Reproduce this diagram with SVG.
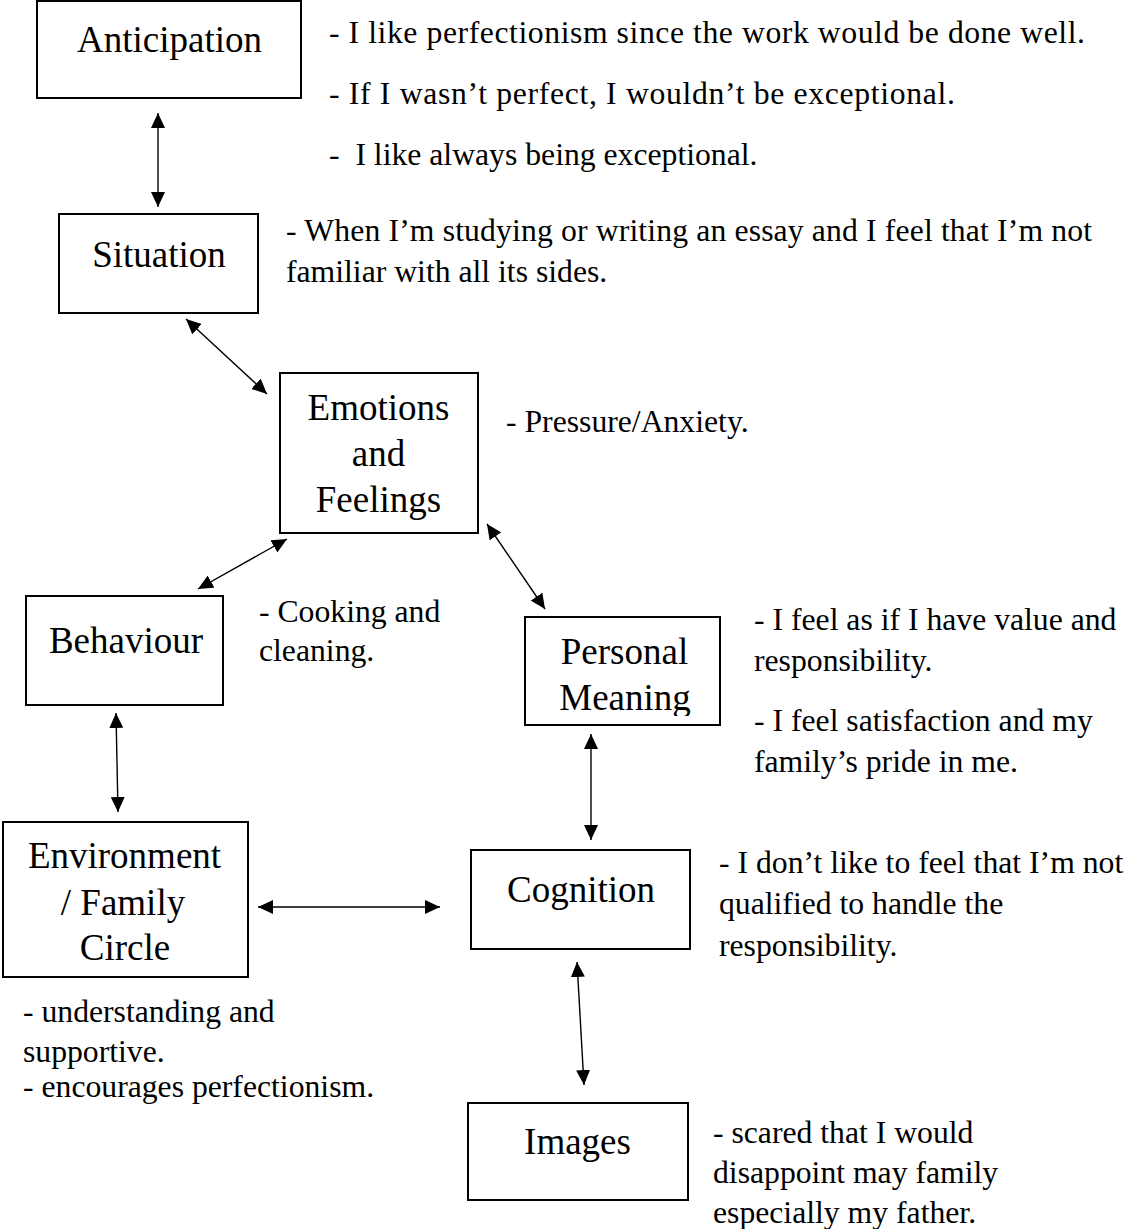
<svg xmlns="http://www.w3.org/2000/svg" width="1131" height="1229" viewBox="0 0 1131 1229">
  <style>
    .box { fill: #fff; stroke: #000; stroke-width: 2; }
    .label { font-family: "Liberation Serif", "Times New Roman", serif; font-size: 37px; fill: #000; text-anchor: middle; }
    .note { font-family: "Liberation Serif", "Times New Roman", serif; font-size: 31.7px; fill: #000; white-space: pre; }
    .link { fill: none; stroke: #000; stroke-width: 1.4; marker-start: url(#head); marker-end: url(#head); }
  </style>
  <defs>
    <marker id="head" markerUnits="userSpaceOnUse" markerWidth="15" markerHeight="14" refX="15" refY="7" orient="auto-start-reverse">
      <path d="M0,0 L15,7 L0,14 z" fill="#000"/>
    </marker>
    <clipPath id="pm-clip">
      <rect x="526" y="618" width="193" height="98"/>
    </clipPath>
  </defs>
  <rect width="1131" height="1229" fill="#fff"/>

  <!-- connectors -->
  <g id="connectors">
    <line class="link" x1="158" y1="113" x2="158" y2="207"/>
    <line class="link" x1="186" y1="319" x2="267" y2="394"/>
    <line class="link" x1="287" y1="539" x2="198" y2="589"/>
    <line class="link" x1="487" y1="524" x2="545" y2="609"/>
    <line class="link" x1="116" y1="713" x2="118" y2="812"/>
    <line class="link" x1="258" y1="907" x2="440" y2="907"/>
    <line class="link" x1="591" y1="734" x2="591" y2="840"/>
    <line class="link" x1="577" y1="962" x2="584" y2="1085"/>
  </g>

  <!-- nodes -->
  <g id="anticipation">
    <rect class="box" x="37" y="1" width="264" height="97"/>
    <text class="label" x="169.5" y="52">Anticipation</text>
  </g>
  <g id="situation">
    <rect class="box" x="59" y="214" width="199" height="99"/>
    <text class="label" x="159" y="267">Situation</text>
  </g>
  <g id="emotions">
    <rect class="box" x="280" y="373" width="198" height="160"/>
    <text class="label" x="378.5" y="420">Emotions</text>
    <text class="label" x="378.5" y="466">and</text>
    <text class="label" x="378.5" y="512">Feelings</text>
  </g>
  <g id="behaviour">
    <rect class="box" x="26" y="596" width="197" height="109"/>
    <text class="label" x="126" y="653">Behaviour</text>
  </g>
  <g id="personal-meaning">
    <rect class="box" x="525" y="617" width="195" height="108"/>
    <g clip-path="url(#pm-clip)">
      <text class="label" x="624.5" y="664">Personal</text>
      <text class="label" x="625" y="710">Meaning</text>
    </g>
  </g>
  <g id="environment">
    <rect class="box" x="3" y="822" width="245" height="155"/>
    <text class="label" x="124.5" y="868">Environment</text>
    <text class="label" x="123" y="915">/ Family</text>
    <text class="label" x="125" y="960">Circle</text>
  </g>
  <g id="cognition">
    <rect class="box" x="471" y="850" width="219" height="99"/>
    <text class="label" x="581" y="902">Cognition</text>
  </g>
  <g id="images">
    <rect class="box" x="468" y="1103" width="220" height="97"/>
    <text class="label" x="577.5" y="1154">Images</text>
  </g>

  <!-- notes beside the nodes -->
  <g id="notes">
    <text class="note" x="329" y="43" textLength="756" lengthAdjust="spacing">- I like perfectionism since the work would be done well.</text>
    <text class="note" x="329" y="104" textLength="626" lengthAdjust="spacing">- If I wasn’t perfect, I wouldn’t be exceptional.</text>
    <text class="note" x="329" y="165">-  I like always being exceptional.</text>

    <text class="note" x="286" y="241" textLength="806" lengthAdjust="spacing">- When I’m studying or writing an essay and I feel that I’m not</text>
    <text class="note" x="286" y="282">familiar with all its sides.</text>

    <text class="note" x="506" y="432">- Pressure/Anxiety.</text>

    <text class="note" x="259" y="622">- Cooking and</text>
    <text class="note" x="259" y="661">cleaning.</text>

    <text class="note" x="754" y="630">- I feel as if I have value and</text>
    <text class="note" x="754" y="671">responsibility.</text>
    <text class="note" x="754" y="731">- I feel satisfaction and my</text>
    <text class="note" x="754" y="772">family’s pride in me.</text>

    <text class="note" x="719" y="873">- I don’t like to feel that I’m not</text>
    <text class="note" x="719" y="914">qualified to handle the</text>
    <text class="note" x="719" y="956">responsibility.</text>

    <text class="note" x="23" y="1022">- understanding and</text>
    <text class="note" x="23" y="1062">supportive.</text>
    <text class="note" x="23" y="1097">- encourages perfectionism.</text>

    <text class="note" x="713" y="1143">- scared that I would</text>
    <text class="note" x="713" y="1183">disappoint may family</text>
    <text class="note" x="713" y="1223">especially my father.</text>
  </g>
</svg>
